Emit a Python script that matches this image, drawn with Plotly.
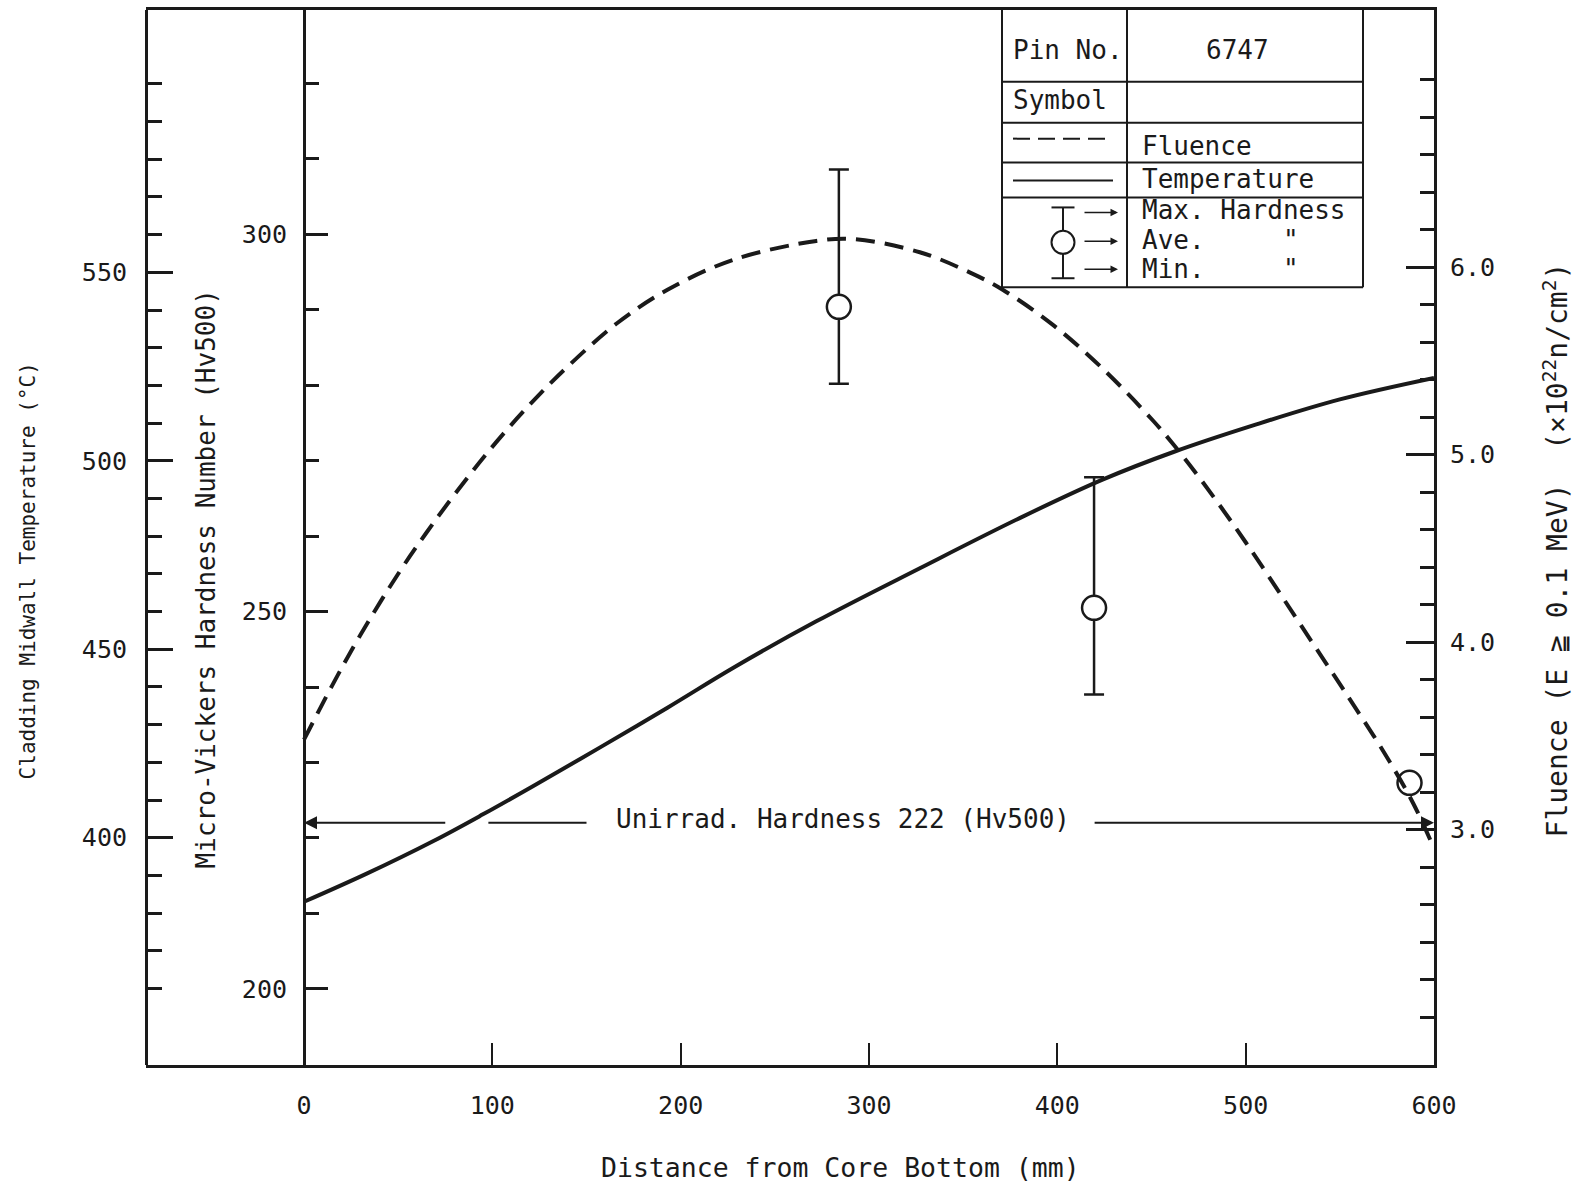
import plotly.graph_objects as go

# ---------------- data ----------------
fluence_x = [0, 15, 30, 51, 69, 87, 104, 122, 140, 166, 193, 228, 272, 292, 327, 354,
             371, 398, 424, 451, 462, 476, 494, 511, 530, 555, 573, 589, 600]
fluence_y = [3.48, 3.77, 4.04, 4.38, 4.64, 4.88, 5.09, 5.29, 5.47, 5.70, 5.88, 6.04, 6.14,
             6.15, 6.08, 5.97, 5.88, 5.69, 5.46, 5.18, 5.05, 4.87, 4.62, 4.37, 4.08, 3.70,
             3.42, 3.14, 2.90]

temp_x = [0, 33, 69, 95, 122, 157, 193, 228, 272, 327, 380, 424, 462, 504, 550, 600]
temp_y = [383.0, 390.4, 399.2, 406.2, 413.8, 423.9, 434.5, 445.1, 457.4, 471.5, 484.8,
          495.0, 502.4, 509.4, 516.3, 522.0]

hv_x = [284, 419.5]
hv_avg = [290.4, 250.5]
hv_max = [308.6, 267.8]
hv_min = [280.2, 239.0]
hv3_x = [587]
hv3_avg = [227.3]

unirrad_hv = 222
x_ticks = [0, 100, 200, 300, 400, 500, 600]
hv_ticks = [200, 250, 300]
hv_minor = [210, 220, 230, 240, 260, 270, 280, 290, 310, 320]
temp_ticks = [400, 450, 500, 550]
temp_minor = [360, 370, 380, 390, 410, 420, 430, 440, 460, 470, 480, 490,
              510, 520, 530, 540, 560, 570, 580, 590, 600]
flu_ticks = [3.0, 4.0, 5.0, 6.0]
flu_minor = [2.0, 2.2, 2.4, 2.6, 2.8, 3.2, 3.4, 3.6, 3.8, 4.2, 4.4, 4.6, 4.8,
             5.2, 5.4, 5.6, 5.8, 6.2, 6.4, 6.6, 6.8, 7.0]

FONT = "DejaVu Sans Mono"
BLACK = "#1a1a1a"

W, H = 1578, 1187
L, R, T, B = 146, 1434, 7, 1065


def px(X):
    return (X - L) / (R - L)


def py(Y):
    return (B - Y) / (B - T)


fig = go.Figure()

fig.add_trace(go.Scatter(x=fluence_x, y=fluence_y, yaxis="y3", mode="lines",
                         line=dict(color=BLACK, width=4, dash="19px,10px", shape="spline",
                                   smoothing=1.0),
                         showlegend=False, hoverinfo="skip"))
fig.add_trace(go.Scatter(x=temp_x, y=temp_y, yaxis="y2", mode="lines",
                         line=dict(color=BLACK, width=4, shape="spline"),
                         showlegend=False, hoverinfo="skip"))
fig.add_trace(go.Scatter(
    x=hv_x, y=hv_avg, mode="markers",
    marker=dict(symbol="circle", size=24, color="white", line=dict(color=BLACK, width=2.5)),
    error_y=dict(type="data", symmetric=False,
                 array=[a - b for a, b in zip(hv_max, hv_avg)],
                 arrayminus=[b - c for b, c in zip(hv_avg, hv_min)],
                 thickness=2.5, width=10, color=BLACK),
    showlegend=False, hoverinfo="skip"))
fig.add_trace(go.Scatter(
    x=hv3_x, y=hv3_avg, mode="markers",
    marker=dict(symbol="circle", size=24, color="white", line=dict(color=BLACK, width=2.5)),
    showlegend=False, hoverinfo="skip"))

shapes = []
annotations = []

# unirradiated hardness line (broken where text / curve sit)
annotations.append(dict(x=0, y=unirrad_hv, ax=75.8, ay=unirrad_hv, xref="x", yref="y",
                        axref="x", ayref="y", text="", showarrow=True, arrowhead=2,
                        arrowsize=1.3, arrowwidth=2, arrowcolor=BLACK))
shapes.append(dict(type="line", xref="x", yref="y", x0=97.9, x1=150, y0=unirrad_hv,
                   y1=unirrad_hv, line=dict(color=BLACK, width=2)))
annotations.append(dict(x=600, y=unirrad_hv, ax=419, ay=unirrad_hv, xref="x", yref="y",
                        axref="x", ayref="y", text="", showarrow=True, arrowhead=2,
                        arrowsize=1.3, arrowwidth=2, arrowcolor=BLACK))
annotations.append(dict(x=286, y=unirrad_hv, xref="x", yref="y", showarrow=False,
                        text="Unirrad. Hardness 222 (Hv500)", xanchor="center",
                        yanchor="middle",
                        font=dict(family=FONT, size=26, color=BLACK), yshift=4))

# ---------- legend table ----------
tl, tdiv, tr, tb = 1002, 1127, 1363, 285
rows = [79, 120, 160, 195]
lw = dict(color=BLACK, width=2)
shapes.append(dict(type="line", xref="paper", yref="paper", x0=px(tl), x1=px(tl),
                   y0=py(T), y1=py(tb), line=lw))
shapes.append(dict(type="line", xref="paper", yref="paper", x0=px(tr), x1=px(tr),
                   y0=py(T), y1=py(tb), line=lw))
shapes.append(dict(type="line", xref="paper", yref="paper", x0=px(tdiv), x1=px(tdiv),
                   y0=py(T), y1=py(tb), line=lw))
shapes.append(dict(type="line", xref="paper", yref="paper", x0=px(tl), x1=px(tr),
                   y0=py(tb), y1=py(tb), line=lw))
for ry in rows:
    shapes.append(dict(type="line", xref="paper", yref="paper", x0=px(tl), x1=px(tr),
                       y0=py(ry), y1=py(ry), line=lw))
# samples
shapes.append(dict(type="line", xref="paper", yref="paper", x0=px(1013), x1=px(1110),
                   y0=py(136), y1=py(136), line=dict(color=BLACK, width=2, dash="17px,8px")))
shapes.append(dict(type="line", xref="paper", yref="paper", x0=px(1013), x1=px(1113),
                   y0=py(178), y1=py(178), line=dict(color=BLACK, width=2)))
cx, cy, rr = 1063, 240, 11.5
shapes.append(dict(type="line", xref="paper", yref="paper", x0=px(cx), x1=px(cx),
                   y0=py(205), y1=py(cy - rr), line=lw))
shapes.append(dict(type="line", xref="paper", yref="paper", x0=px(cx), x1=px(cx),
                   y0=py(cy + rr), y1=py(276), line=lw))
for capy in (205, 276):
    shapes.append(dict(type="line", xref="paper", yref="paper", x0=px(cx - 11.5),
                       x1=px(cx + 11.5), y0=py(capy), y1=py(capy), line=lw))
shapes.append(dict(type="circle", xref="paper", yref="paper", x0=px(cx - rr), x1=px(cx + rr),
                   y0=py(cy + rr), y1=py(cy - rr), line=lw, fillcolor="white"))
for ay_ in (210, 239, 267):
    annotations.append(dict(x=px(1118), y=py(ay_), xref="paper", yref="paper", ax=-35, ay=0,
                            text="", showarrow=True, arrowhead=2, arrowsize=1,
                            arrowwidth=1.5, arrowcolor=BLACK))

tf = dict(family=FONT, size=26, color=BLACK)


def tbl_text(X, Y, s, anchor="left"):
    annotations.append(dict(x=px(X), y=py(Y), xref="paper", yref="paper", text=s,
                            showarrow=False, xanchor=anchor, yanchor="middle", font=tf))


tbl_text(1011, 47, "Pin No.")
tbl_text(1237, 47, "6747", "center")
tbl_text(1011, 97, "Symbol")
tbl_text(1140, 143, "Fluence")
tbl_text(1140, 176, "Temperature")
tbl_text(1140, 208, "Max. Hardness")
tbl_text(1140, 238, "Ave.     \"")
tbl_text(1140, 267, "Min.     \"")

# ---------- axis titles ----------
annotations.append(dict(x=px(28), y=py(570), xref="paper", yref="paper", showarrow=False,
                        text="Cladding Midwall Temperature (°C)", textangle=-90,
                        xanchor="center", yanchor="middle",
                        font=dict(family=FONT, size=21, color=BLACK)))
annotations.append(dict(x=px(206), y=py(578), xref="paper", yref="paper", showarrow=False,
                        text="Micro-Vickers Hardness Number (Hv500)", textangle=-90,
                        xanchor="center", yanchor="middle",
                        font=dict(family=FONT, size=26, color=BLACK)))
annotations.append(dict(x=px(1556), y=py(549), xref="paper", yref="paper", showarrow=False,
                        text="Fluence (E ≧ 0.1 MeV)  (×10<sup>22</sup>n/cm<sup>2</sup>)",
                        textangle=-90, xanchor="center", yanchor="middle",
                        font=dict(family=FONT, size=28, color=BLACK)))
annotations.append(dict(x=px(840), y=py(1168), xref="paper", yref="paper", showarrow=False,
                        text="Distance from Core Bottom (mm)",
                        xanchor="center", yanchor="middle",
                        font=dict(family=FONT, size=26.5, color=BLACK)))

tickfont = dict(family=FONT, size=25, color=BLACK)
x0_range = -(304 - L) / ((R - 304) / 600)

fig.update_layout(
    width=W, height=H, autosize=False,
    margin=dict(l=L, r=W - R, t=T, b=H - B, pad=0),
    paper_bgcolor="white", plot_bgcolor="white",
    showlegend=False,
    xaxis=dict(range=[x0_range, 600], showgrid=False, zeroline=False,
               showline=True, linewidth=3, linecolor=BLACK, mirror=True,
               ticks="inside", ticklen=22, tickwidth=2, tickcolor=BLACK,
               tickmode="array", tickvals=x_ticks, ticktext=[str(v) for v in x_ticks],
               tickfont=tickfont, ticklabelstandoff=16),
    yaxis=dict(range=[189.9, 329.74], anchor="free", position=px(304), side="left",
               showgrid=False, zeroline=False, showline=True, linewidth=3, linecolor=BLACK,
               ticks="inside", ticklen=22, tickwidth=2.5, tickcolor=BLACK,
               tickmode="array", tickvals=hv_ticks, ticktext=[str(v) for v in hv_ticks],
               tickfont=tickfont, ticklabelstandoff=11,
               minor=dict(tickmode="array", tickvals=hv_minor, ticks="inside", ticklen=13,
                          tickwidth=2.5, tickcolor=BLACK, showgrid=False)),
    yaxis2=dict(range=[339.7, 619.6], overlaying="y", anchor="free", position=0, side="left",
                showgrid=False, zeroline=False, showline=True, linewidth=3, linecolor=BLACK,
                ticks="inside", ticklen=25, tickwidth=2.5, tickcolor=BLACK,
                tickmode="array", tickvals=temp_ticks, ticktext=[str(v) for v in temp_ticks],
                tickfont=tickfont, ticklabelstandoff=13,
                minor=dict(tickmode="array", tickvals=temp_minor, ticks="inside", ticklen=14,
                           tickwidth=2.5, tickcolor=BLACK, showgrid=False)),
    yaxis3=dict(range=[1.745, 7.372], overlaying="y", anchor="x", side="right",
                showgrid=False, zeroline=False, showline=True, linewidth=3, linecolor=BLACK,
                ticks="inside", ticklen=28, tickwidth=2.5, tickcolor=BLACK,
                tickmode="array", tickvals=flu_ticks,
                ticktext=["%.1f" % v for v in flu_ticks],
                tickfont=tickfont, ticklabelstandoff=8,
                minor=dict(tickmode="array", tickvals=flu_minor, ticks="inside", ticklen=14,
                           tickwidth=2.5, tickcolor=BLACK, showgrid=False)),
    shapes=shapes,
    annotations=annotations,
)

fig.write_html("out.html")
